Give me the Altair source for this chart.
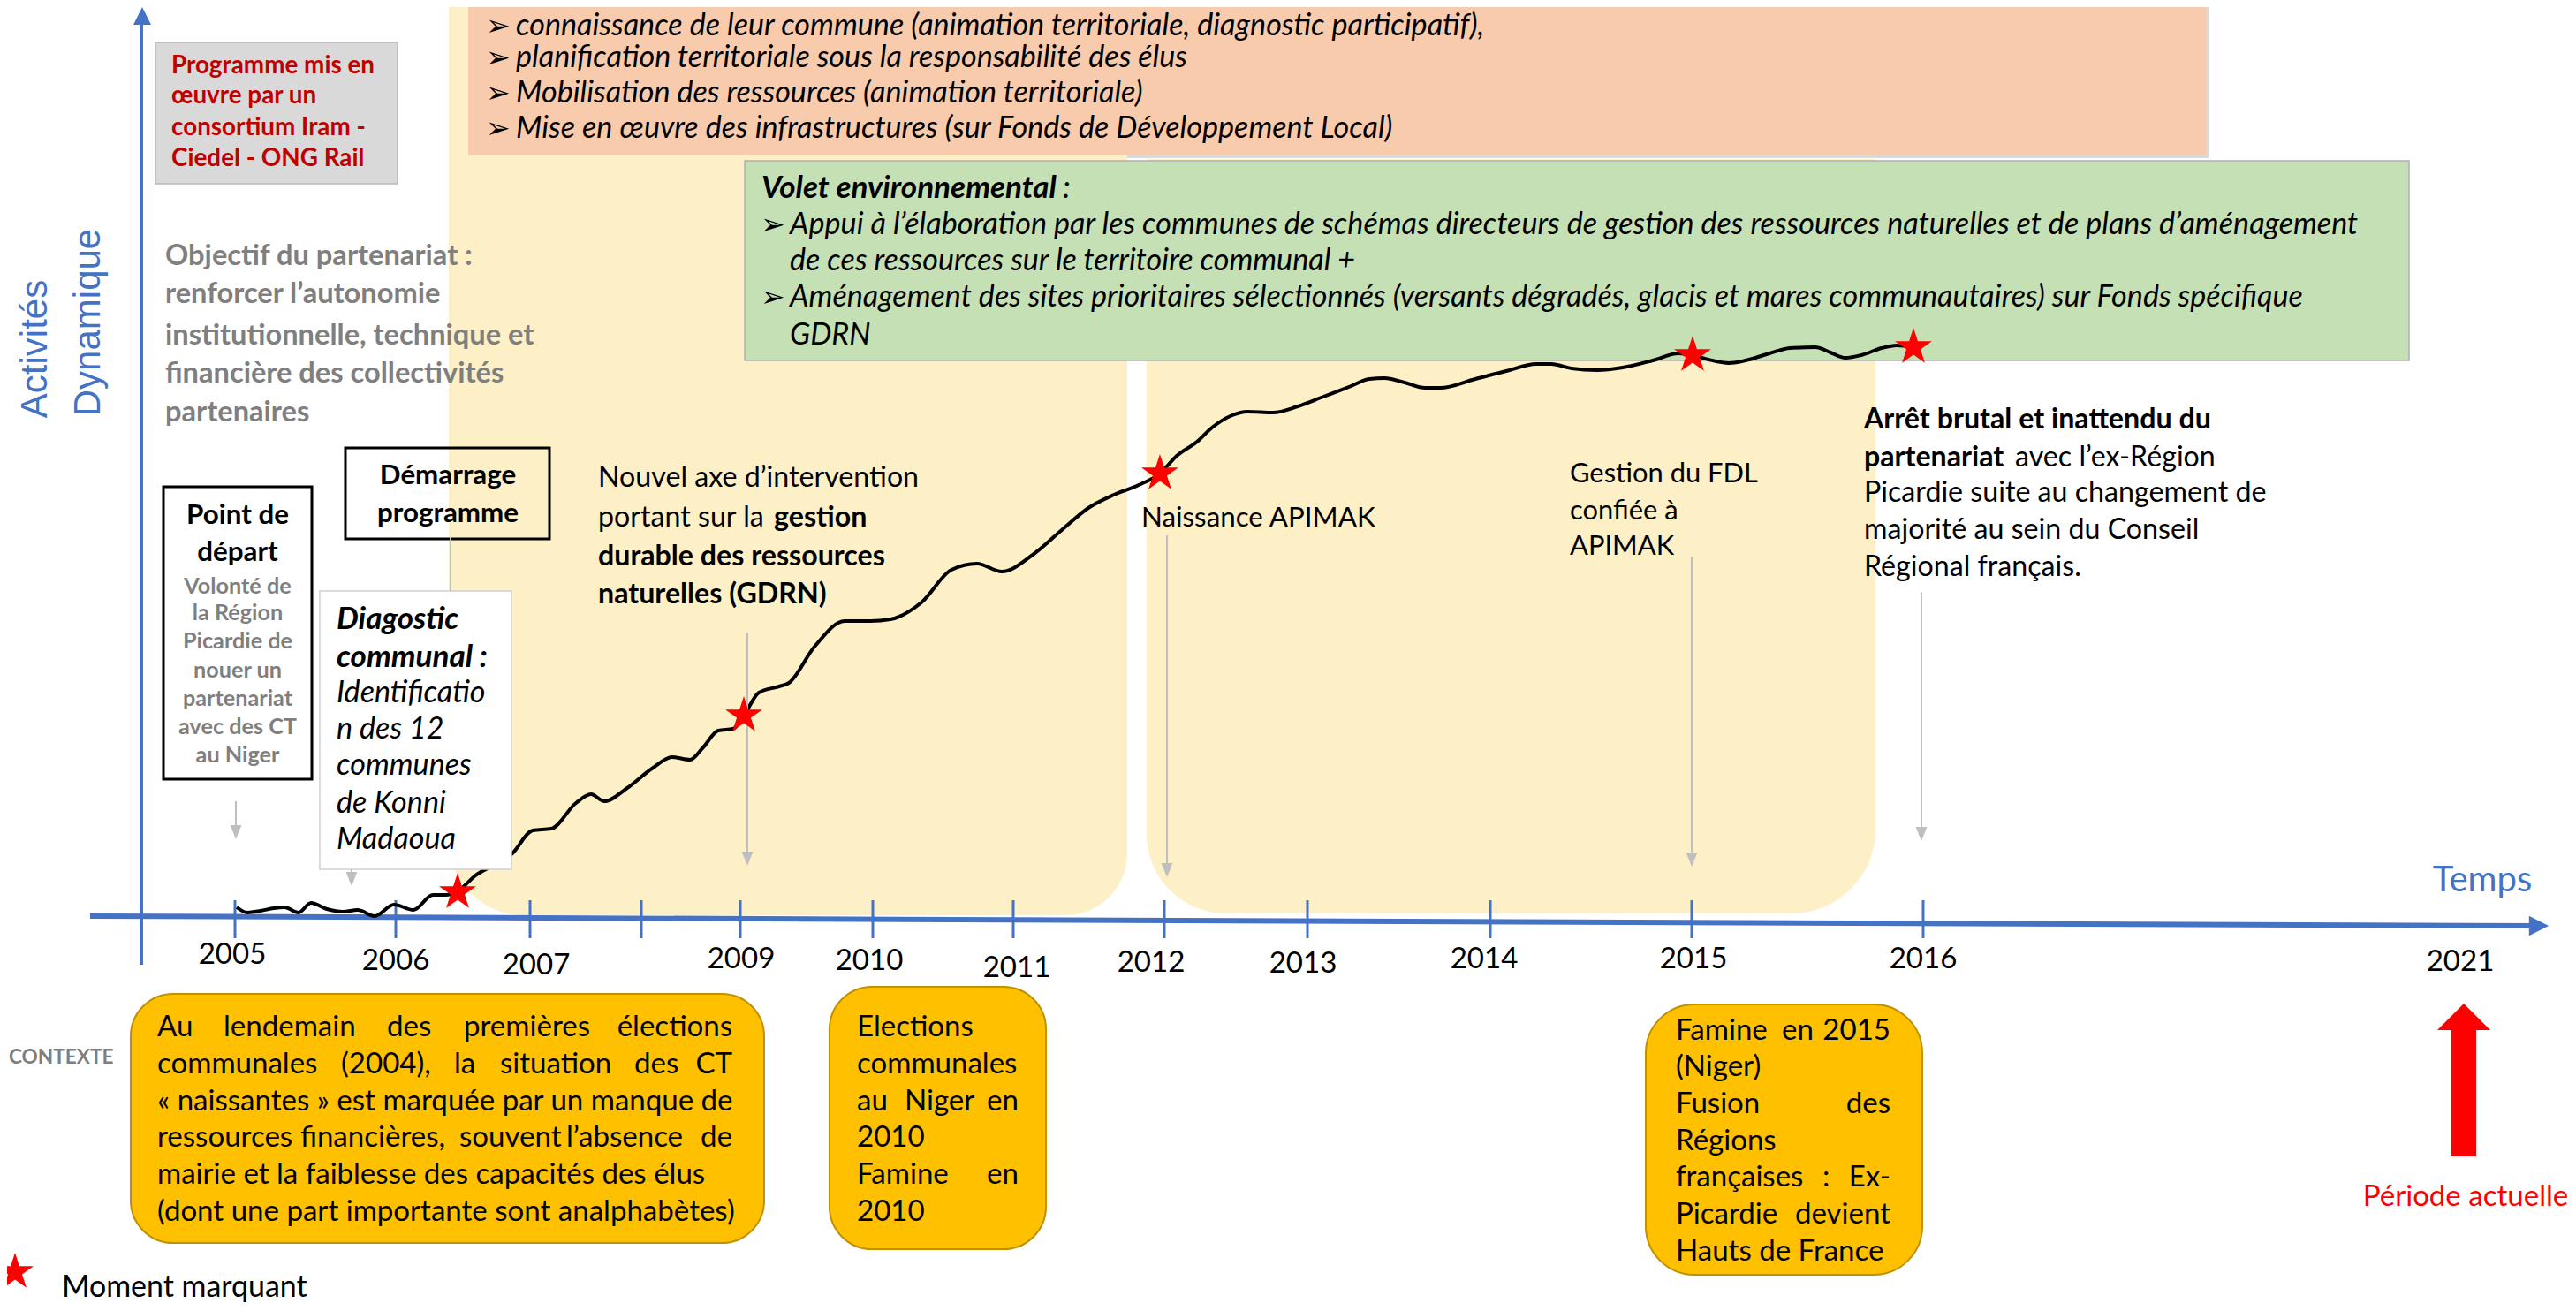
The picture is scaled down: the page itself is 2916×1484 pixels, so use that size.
import altair as alt
import pandas as pd

# ---------------------------------------------------------------------------
# DATA  (horizontal unit = position along the time line, vertical unit =
# "dynamique" level, 0 = time axis)
# ---------------------------------------------------------------------------
curve_pos = [268, 280, 295, 310, 322, 338, 352, 370, 388, 405, 424, 446, 468, 490, 505, 518,
             537, 580, 603, 624, 652, 669, 684, 710, 738, 761, 781, 796, 813, 830, 842,
             859, 882, 893, 922, 956, 985, 1008, 1043, 1077, 1106, 1134, 1169, 1203, 1232, 1261, 1289, 1313,
             1332, 1355, 1372, 1395, 1412, 1441, 1469, 1498, 1527, 1550, 1567, 1590, 1613, 1630, 1670, 1705,
             1739, 1756, 1779, 1808, 1837, 1871, 1900, 1916, 1934, 1957, 1980, 2003, 2026, 2055, 2072, 2089,
             2107, 2130, 2147, 2166]
curve_level = [13, 7, 9, 12, 13, 7, 18, 11, 8, 10, 3, 16, 10, 27, 27, 31,
               48, 74, 100, 102, 131, 141, 133, 148, 170, 183, 180, 194, 213, 215, 230,
               256, 263, 267, 308, 337, 337, 339, 358, 395, 402, 393, 412, 441, 465, 480, 491, 504,
               524, 540, 556, 570, 574, 573, 580, 591, 602, 611, 612, 607, 601, 601, 611, 620,
               628, 628, 623, 621, 624, 632, 640, 638, 633, 629, 633, 640, 646, 647, 641, 635,
               638, 646, 649, 647]

star_pos = [518, 842, 1313, 1916, 2166]
star_level = [30, 230, 504, 638, 647]

tick_pos = [266, 448, 600, 726, 838, 988, 1147, 1318, 1480, 1687, 1915, 2177]
year_labels = ["2005", "2006", "2007", "2009", "2010", "2011", "2012", "2013", "2014", "2015", "2016", "2021"]
year_pos = [263, 448, 607, 839, 984, 1151, 1303, 1475, 1680, 1917, 2177, 2785]
year_level = [-41, -48, -53, -46, -48, -56, -50, -51, -46, -46, -46, -49]

peach_lines = [
    "connaissance de leur commune (animation territoriale, diagnostic participatif),",
    "planification territoriale sous la responsabilité des élus",
    "Mobilisation des ressources (animation territoriale)",
    "Mise en œuvre des infrastructures (sur Fonds de Développement Local)",
]
green_title = "Volet environnemental"
green_lines = [
    "Appui à l’élaboration par les communes de schémas directeurs de gestion des ressources naturelles et de plans d’aménagement",
    "de ces ressources sur le territoire communal +",
    "Aménagement des sites prioritaires sélectionnés (versants dégradés, glacis et mares communautaires) sur Fonds spécifique",
    "GDRN",
]
consortium_lines = ["Programme mis en", "œuvre par un", "consortium Iram -", "Ciedel - ONG Rail"]
objectif_lines = ["Objectif du partenariat :", "renforcer l’autonomie", "institutionnelle, technique et",
                  "financière des collectivités", "partenaires"]
depart_title = ["Point de", "départ"]
depart_lines = ["Volonté de", "la Région", "Picardie de", "nouer un", "partenariat", "avec des CT", "au Niger"]
demarrage_lines = ["Démarrage", "programme"]
diag_bold = ["Diagostic", "communal :"]
diag_lines = ["Identificatio", "n des 12", "communes", "de Konni", "Madaoua"]
gestion_lines = ["Gestion du FDL", "confiée à", "APIMAK"]
arret_lines = ["Picardie suite au changement de", "majorité au sein du Conseil", "Régional français."]

# ---------------------------------------------------------------------------
# LAYOUT
# ---------------------------------------------------------------------------
FONT = "Lato"
FS = 0.87          # font scale
IT = 1.09          # extra scale for italic text
BLACK, GREYT, REDT, BLUE, RED = "#000000", "#7F7F7F", "#C00000", "#4472C4", "#FF0000"
XS = alt.Scale(domain=[8, 2908], nice=False, zero=False)
YS = alt.Scale(domain=[-436, 1032], nice=False, zero=False)


def X(f="x"):
    return alt.X(f + ":Q", scale=XS, axis=None)


def Y(f="y"):
    return alt.Y(f + ":Q", scale=YS, axis=None)


def rects(rows, **mk):
    df = pd.DataFrame(rows, columns=["x", "x2", "y", "y2"])
    return alt.Chart(df).mark_rect(**mk).encode(
        x=X(), x2=alt.X2("x2"), y=Y(), y2=alt.Y2("y2"))


def rules(rows, **mk):
    df = pd.DataFrame(rows, columns=["x", "x2", "y", "y2"])
    return alt.Chart(df).mark_rule(**mk).encode(
        x=X(), x2=alt.X2("x2"), y=Y(), y2=alt.Y2("y2"))


def points(xs, ys, shape, size, color):
    df = pd.DataFrame({"x": xs, "y": ys})
    return alt.Chart(df).mark_point(shape=shape, size=size, filled=True, color=color,
                                    opacity=1, strokeWidth=0).encode(x=X(), y=Y())


layers = []
# background areas
layers.append(rects([[532, 2500, 1032, 861]], color="#DADADA"))                       # peach shadow
layers.append(rects([[508, 1276, 1032, 4]], color="#FDEFC6",
                    cornerRadiusBottomLeft=85, cornerRadiusBottomRight=70))
layers.append(rects([[1298, 2123, 860, 6]], color="#FDEFC6",
                    cornerRadiusBottomLeft=90, cornerRadiusBottomRight=95))
layers.append(rects([[530, 2497, 1032, 864]], color="#F8CBAD"))
layers.append(rects([[843, 2727, 858, 632]], color="#C5E0B4", stroke="#B0B0B0", strokeWidth=1.5))
layers.append(rects([[176, 450, 992, 832]], color="#D9D9D9", stroke="#B8B8B8", strokeWidth=1.5))
layers.append(rects([[185, 353, 489, 158], [391, 622, 533, 430]], fill=None, filled=False,
                    stroke=BLACK, strokeWidth=3))

# axes
layers.append(rules([[160, 160, 1018, -52]], color=BLUE, strokeWidth=4))
layers.append(points([161], [1022], "M-1,1L1,1L0,-1Z", 400, BLUE))
layers.append(rules([[102, 2872, 3, -8]], color=BLUE, strokeWidth=6))
layers.append(points([2874], [-8], "M-1,-1L1,0L-1,1Z", 500, BLUE))
layers.append(rules([[p, p, 21, -22] for p in tick_pos], color=BLUE, strokeWidth=3))

# curve
cdf = pd.DataFrame({"x": curve_pos, "y": curve_level})
layers.append(alt.Chart(cdf).mark_line(color=BLACK, strokeWidth=4, interpolate="monotone")
              .encode(x=X(), y=Y(), order="x:Q"))

# diagnostic white box (above the curve)
layers.append(rects([[362, 579, 371, 56]], color="#FFFFFF", stroke="#CFCFCF", strokeWidth=1.5))

# grey pointer arrows
arrows = [(267, 133, 90), (398, 56, 37), (846, 324, 60), (1321, 434, 47), (1915, 410, 59), (2175, 369, 88)]
layers.append(rules([[a[0], a[0], a[1], a[2] + 10] for a in arrows], color="#BFBFBF", strokeWidth=2))
layers.append(rules([[510, 510, 432, 371]], color="#BFBFBF", strokeWidth=2))
layers.append(points([a[0] for a in arrows], [a[2] + 8 for a in arrows], "M-0.8,-1L0.8,-1L0,1Z", 256, "#BFBFBF"))

# stars
STAR = "M0,-1L0.225,-0.309L0.951,-0.309L0.363,0.118L0.588,0.809L0,0.382L-0.588,0.809L-0.363,0.118L-0.951,-0.309L-0.225,-0.309Z"
layers.append(points(star_pos + [17], star_level + [-400], STAR, 1936, RED))

# context boxes
layers.append(rects([[148, 865, -85, -367], [939, 1184, -77, -374]], color="#FFC000",
                    stroke="#BF9000", strokeWidth=2, cornerRadius=48))
layers.append(rects([[1863, 2176, -97, -403]], color="#FFC000", stroke="#BF9000", strokeWidth=2,
                    cornerRadius=55))

# red arrow (période actuelle)
layers.append(rects([[2775, 2803, -126, -269]], color=RED))
layers.append(points([2789], [-111], "M-1,0.5L0,-0.5L1,0.5Z", 3600, RED))

# ---------------------------------------------------------------------------
# TEXT
# ---------------------------------------------------------------------------
rows = []
for yv, t in zip([1010, 974, 934, 894], peach_lines):
    rows.append(("arrow", 550, yv, "➢", 38, BLACK))
    rows.append(("iL", 584, yv, t, 36 * IT, BLACK))
rows.append(("biL", 862, 827, green_title, 37 * IT, BLACK))
rows.append(("iL", 1203, 827, ":", 37 * IT, BLACK))
for yv in [785, 703]:
    rows.append(("arrow", 861, yv, "➢", 38, BLACK))
for yv, t in zip([785, 744, 703, 660], green_lines):
    rows.append(("iL", 894, yv, t, 36 * IT, BLACK))
for yv, t in zip([965, 931, 895, 860], consortium_lines):
    rows.append(("bL", 194, yv, t, 32, REDT))
for yv, t in zip([750, 707, 660, 617, 573], objectif_lines):
    rows.append(("bL", 187, yv, t, 37.5, GREYT))
for yv, t in zip([456, 414], depart_title):
    rows.append(("bC", 269, yv, t, 36, BLACK))
for yv, t in zip([376, 346, 314, 281, 249, 217, 185], depart_lines):
    rows.append(("bC", 269, yv, t, 29, GREYT))
for yv, t in zip([501, 458], demarrage_lines):
    rows.append(("bC", 507, yv, t, 36, BLACK))
for yv, t in zip([339, 296], diag_bold):
    rows.append(("biL", 381, yv, t, 37 * IT, BLACK))
for yv, t in zip([255, 214, 173, 130, 89], diag_lines):
    rows.append(("iL", 381, yv, t, 37 * 1.06, BLACK))
rows += [("nL", 677, 499, "Nouvel axe d’intervention", 37, BLACK),
         ("nL", 677, 454, "portant sur la", 37, BLACK),
         ("bL", 876, 454, "gestion", 37, BLACK),
         ("bL", 677, 410, "durable des ressources", 37, BLACK),
         ("bL", 677, 367, "naturelles (GDRN)", 37, BLACK),
         ("nL", 1292, 453, "Naissance APIMAK", 36, BLACK)]
for yv, t in zip([503, 461, 421], gestion_lines):
    rows.append(("nL", 1777, yv, t, 35.5, BLACK))
rows += [("bL", 2110, 565, "Arrêt brutal et inattendu du", 37, BLACK),
         ("bL", 2110, 522, "partenariat", 37, BLACK),
         ("nL", 2281, 522, "avec l’ex-Région", 37, BLACK)]
for yv, t in zip([482, 440, 398], arret_lines):
    rows.append(("nL", 2110, yv, t, 37, BLACK))
for p, yv, t in zip(year_pos, year_level, year_labels):
    rows.append(("nC", p, yv, t, 38, BLACK))
rows += [("nC", 2810, 43, "Temps", 46, BLUE),
         ("bL", 10, -157, "CONTEXTE", 26, GREYT),
         ("nL", 70, -418, "Moment marquant", 39, BLACK),
         ("nC", 2791, -315, "Période actuelle", 38, RED),
         ("rot", 40, 645, "Activités", 42 / FS, BLUE),
         ("rot", 100, 675, "Dynamique", 42 / FS, BLUE)]

# context texts (justified lines split at word positions)
CS = 38
ctx = [
    # box A
    (178, -123, "Au", "L"), (253, -123, "lendemain", "L"), (438, -123, "des", "L"),
    (525, -123, "premières", "L"), (829, -123, "élections", "R"),
    (178, -165, "communales", "L"), (386, -165, "(2004),", "L"), (514, -165, "la", "L"),
    (566, -165, "situation", "L"), (718, -165, "des", "L"), (829, -165, "CT", "R"),
    (178, -207, "« naissantes » est marquée par un manque de", "L"),
    (178, -248, "ressources", "L"), (340, -248, "financières,", "L"), (520, -248, "souvent", "L"),
    (641, -248, "l’absence", "L"), (829, -248, "de", "R"),
    (178, -290, "mairie et la faiblesse des capacités des élus", "L"),
    (178, -332, "(dont une part importante sont analphabètes)", "L"),
    # box B
    (970, -123, "Elections", "L"), (970, -165, "communales", "L"),
    (970, -207, "au", "L"), (1024, -207, "Niger", "L"), (1153, -207, "en", "R"),
    (970, -248, "2010", "L"),
    (970, -290, "Famine", "L"), (1153, -290, "en", "R"),
    (970, -332, "2010", "L"),
    # box C
    (1897, -127, "Famine", "L"), (2017, -127, "en", "L"), (2140, -127, "2015", "R"),
    (1897, -168, "(Niger)", "L"),
    (1897, -210, "Fusion", "L"), (2140, -210, "des", "R"),
    (1897, -252, "Régions", "L"),
    (1897, -293, "françaises", "L"), (2063, -293, ":", "L"), (2140, -293, "Ex-", "R"),
    (1897, -335, "Picardie", "L"), (2140, -335, "devient", "R"),
    (1897, -377, "Hauts de France", "L"),
]
for x, yv, t, a in ctx:
    rows.append(("n" + a, x, yv, t, CS, BLACK))

ann = pd.DataFrame(rows, columns=["g", "x", "y", "t", "s", "c"])
ann["s"] = ann["s"] * FS
styles = {
    "nL": dict(align="left"),
    "nR": dict(align="right"),
    "nC": dict(align="center"),
    "bL": dict(align="left", fontWeight="bold"),
    "bC": dict(align="center", fontWeight="bold"),
    "iL": dict(align="left", fontStyle="italic"),
    "biL": dict(align="left", fontStyle="italic", fontWeight="bold"),
    "arrow": dict(align="left", font="DejaVu Sans"),
    "rot": dict(align="center", angle=270, font="Liberation Sans"),
}
for g, st in styles.items():
    d = ann[ann.g == g]
    if len(d) == 0:
        continue
    kw = dict(font=FONT, baseline="middle")
    kw.update(st)
    layers.append(alt.Chart(d).mark_text(**kw).encode(
        x=X(), y=Y(), text="t:N",
        size=alt.Size("s:Q", scale=None),
        color=alt.Color("c:N", scale=None)))

chart = alt.layer(*layers).properties(
    width=2900, height=1468, padding=0,
    autosize=alt.AutoSizeParams(type="none"),
    background="#FFFFFF",
).configure_view(stroke=None)

chart.save("out.html", embed_options={"renderer": "svg", "actions": False})
